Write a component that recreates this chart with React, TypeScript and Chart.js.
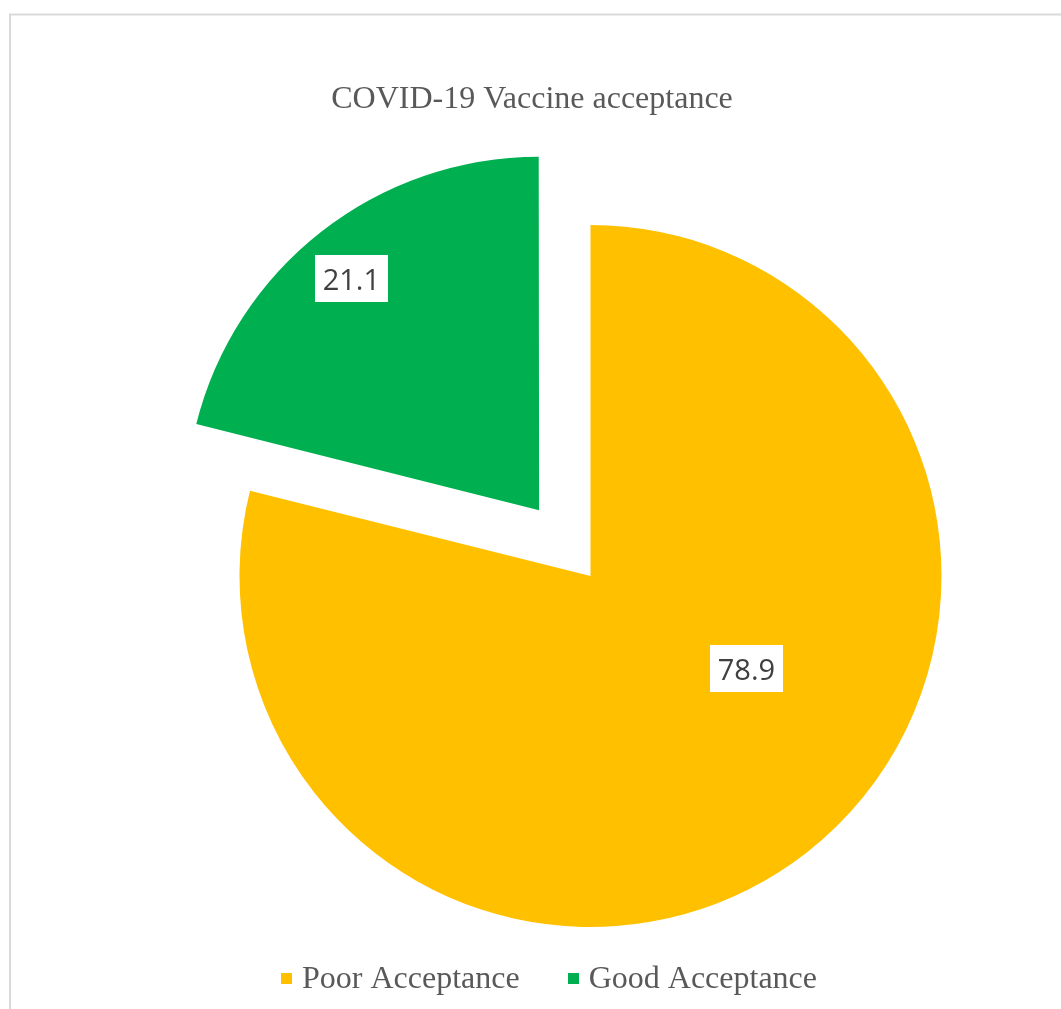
import React, { useEffect, useRef } from 'react';
import { Chart, registerables } from 'chart.js';

Chart.register(...registerables);

// ---- data ----
const categories = ['Poor Acceptance', 'Good Acceptance'];
const acceptanceValues = [78.9, 21.1];
const chartTitle = 'COVID-19 Vaccine acceptance';

// ---- styles ----
const sliceColors = ['#FFC000', '#00B050'];
const W = 1061;
const H = 1009;

const framePlugin = {
  id: 'frame',
  beforeDraw(chart: any) {
    const ctx = chart.ctx;
    ctx.save();
    ctx.fillStyle = '#ffffff';
    ctx.fillRect(0, 0, W, H);
    ctx.strokeStyle = '#d9d9d9';
    ctx.lineWidth = 2;
    ctx.beginPath();
    ctx.moveTo(10, H + 5);
    ctx.lineTo(10, 14.5);
    ctx.lineTo(W + 5, 14.5);
    ctx.stroke();
    ctx.restore();
  },
};

// place the pie inside the frame (its centre is right of the title's centre)
const pieAreaPlugin = {
  id: 'pieArea',
  afterLayout(chart: any, _args: any, opts: any) {
    const s = opts.size;
    chart.chartArea = {
      left: opts.cx - s / 2,
      right: opts.cx + s / 2,
      top: opts.cy - s / 2,
      bottom: opts.cy + s / 2,
      width: s,
      height: s,
    };
  },
};

const valueLabelPlugin = {
  id: 'valueLabels',
  afterDatasetsDraw(chart: any, _args: any, opts: any) {
    const ctx = chart.ctx;
    const meta = chart.getDatasetMeta(0);
    const values = chart.data.datasets[0].data as number[];
    meta.data.forEach((arc: any, i: number) => {
      const p = arc.getProps(['x', 'y', 'startAngle', 'endAngle', 'outerRadius'], true);
      const off = (arc.options.offset || 0) / 4;
      const mid = (p.startAngle + p.endAngle) / 2;
      const cx = p.x + Math.cos(mid) * off;
      const cy = p.y + Math.sin(mid) * off;
      const place = opts.placement[i];
      const ang = place.angle != null ? ((place.angle - 90) * Math.PI) / 180 : mid;
      const r = p.outerRadius * place.radius;
      const lx = cx + Math.cos(ang) * r;
      const ly = cy + Math.sin(ang) * r;
      const text = values[i].toFixed(1);
      ctx.save();
      ctx.font = opts.font;
      const tw = ctx.measureText(text).width;
      const bw = tw + 2 * opts.padX;
      const bh = opts.boxHeight;
      ctx.fillStyle = '#ffffff';
      ctx.fillRect(Math.round(lx - bw / 2), Math.round(ly - bh / 2), Math.round(bw), bh);
      ctx.fillStyle = opts.color;
      ctx.textAlign = 'center';
      ctx.textBaseline = 'alphabetic';
      ctx.fillText(text, lx, ly + opts.baselineShift);
      ctx.restore();
    });
  },
};

const bottomLegendPlugin = {
  id: 'bottomLegend',
  afterDraw(chart: any, _args: any, opts: any) {
    const ctx = chart.ctx;
    const labels = chart.data.labels as string[];
    const colors = chart.data.datasets[0].backgroundColor as string[];
    ctx.save();
    ctx.font = opts.font;
    const widths = labels.map((l) => ctx.measureText(l).width);
    const itemW = widths.map((w) => opts.box + opts.gap + w);
    const total = itemW.reduce((a, b) => a + b, 0) + opts.itemGap * (labels.length - 1);
    let x = opts.cx - total / 2;
    labels.forEach((l, i) => {
      ctx.fillStyle = colors[i];
      ctx.fillRect(Math.round(x), opts.baseline - opts.boxRaise, opts.box, opts.box);
      ctx.fillStyle = opts.color;
      ctx.textAlign = 'left';
      ctx.textBaseline = 'alphabetic';
      ctx.fillText(l, x + opts.box + opts.gap, opts.baseline);
      x += itemW[i] + opts.itemGap;
    });
    ctx.restore();
  },
};

export default function App() {
  const ref = useRef<HTMLCanvasElement>(null);

  useEffect(() => {
    if (!ref.current) return;
    const chart = new Chart(ref.current, {
      type: 'pie',
      data: {
        labels: categories,
        datasets: [
          {
            data: acceptanceValues,
            backgroundColor: sliceColors,
            borderWidth: 0,
            offset: [0, 334],
            hoverOffset: 0,
            radius: 351,
            clip: false,
          } as any,
        ],
      },
      options: {
        responsive: false,
        animation: false,
        events: [],
        layout: { padding: { left: 3, right: 0, top: 0, bottom: 0 } },
        plugins: {
          legend: { display: false },
          tooltip: { enabled: false },
          title: {
            display: true,
            text: chartTitle,
            color: '#595959',
            font: { family: '"Liberation Serif", "Times New Roman", serif', size: 32, weight: 'normal', lineHeight: 1.2 },
            padding: { top: 80, bottom: 0 },
          },
          pieArea: { cx: 590.5, cy: 576, size: 800 },
          valueLabels: {
            font: '29px "Open Sans", sans-serif',
            color: '#404040',
            padX: 8,
            boxHeight: 47,
            baselineShift: 11.5,
            placement: [
              { angle: 120.6, radius: 0.516 },
              { angle: 321, radius: 0.85 },
            ],
          },
          bottomLegend: {
            font: '32px "Liberation Serif", "Times New Roman", serif',
            color: '#595959',
            cx: 549,
            baseline: 988,
            box: 11,
            boxRaise: 15,
            gap: 10,
            itemGap: 48,
          },
        } as any,
      },
      plugins: [framePlugin, pieAreaPlugin, valueLabelPlugin, bottomLegendPlugin],
    });
    return () => chart.destroy();
  }, []);

  return (
    <canvas
      ref={ref}
      width={W}
      height={H}
      style={{ position: 'fixed', left: 0, top: 0, display: 'block' }}
    />
  );
}
